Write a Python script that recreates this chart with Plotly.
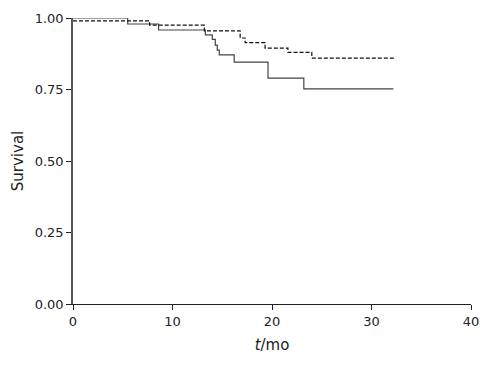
import plotly.graph_objects as go

# Solid curve (group A)
solid_t = [0, 5.5, 8.6, 13.3, 14.0, 14.3, 14.5, 14.7, 16.2, 19.6, 23.2, 32.2]
solid_s = [1.00, 0.979, 0.958, 0.941, 0.925, 0.905, 0.888, 0.871, 0.846, 0.790, 0.752, 0.752]

# Dashed curve (group B)
dash_t = [0, 7.7, 13.2, 16.8, 17.3, 19.3, 21.6, 24.0, 32.4]
dash_s = [0.99, 0.975, 0.955, 0.930, 0.914, 0.895, 0.880, 0.860, 0.860]

x_ticks = [0, 10, 20, 30, 40]
y_ticks = [0.0, 0.25, 0.50, 0.75, 1.00]
y_labels = ["0.00", "0.25", "0.50", "0.75", "1.00"]

fig = go.Figure()
fig.add_trace(go.Scatter(x=solid_t, y=solid_s, mode="lines", line_shape="hv",
                         line=dict(color="#444444", width=1.2), showlegend=False))
fig.add_trace(go.Scatter(x=dash_t, y=dash_s, mode="lines", line_shape="hv",
                         line=dict(color="#111111", width=1.2, dash="4px,2px"), showlegend=False))

font = dict(family="DejaVu Sans, Verdana, sans-serif", size=13, color="#222222")
tfont = dict(family="DejaVu Sans, Verdana, sans-serif", size=15, color="#222222")
fig.update_layout(
    width=500, height=368,
    margin=dict(l=73, r=29, t=18, b=64),
    paper_bgcolor="white", plot_bgcolor="white",
    font=font,
    xaxis=dict(range=[0, 40], tickvals=x_ticks, ticks="outside", ticklen=5,
               tickcolor="#222", showline=True, linecolor="#222", linewidth=1.2,
               showgrid=False, zeroline=False,
               title=dict(text="<i>t</i>/mo", standoff=11, font=tfont)),
    yaxis=dict(range=[0, 1], tickvals=y_ticks, ticktext=y_labels, ticks="outside", ticklen=5,
               tickcolor="#222", showline=True, linecolor="#555", linewidth=1.5,
               showgrid=False, zeroline=False,
               title=dict(text="Survival", standoff=7, font=tfont)),
)
fig.write_html("out.html", post_script="document.body.style.margin='0';",
               config={"displayModeBar": False})
